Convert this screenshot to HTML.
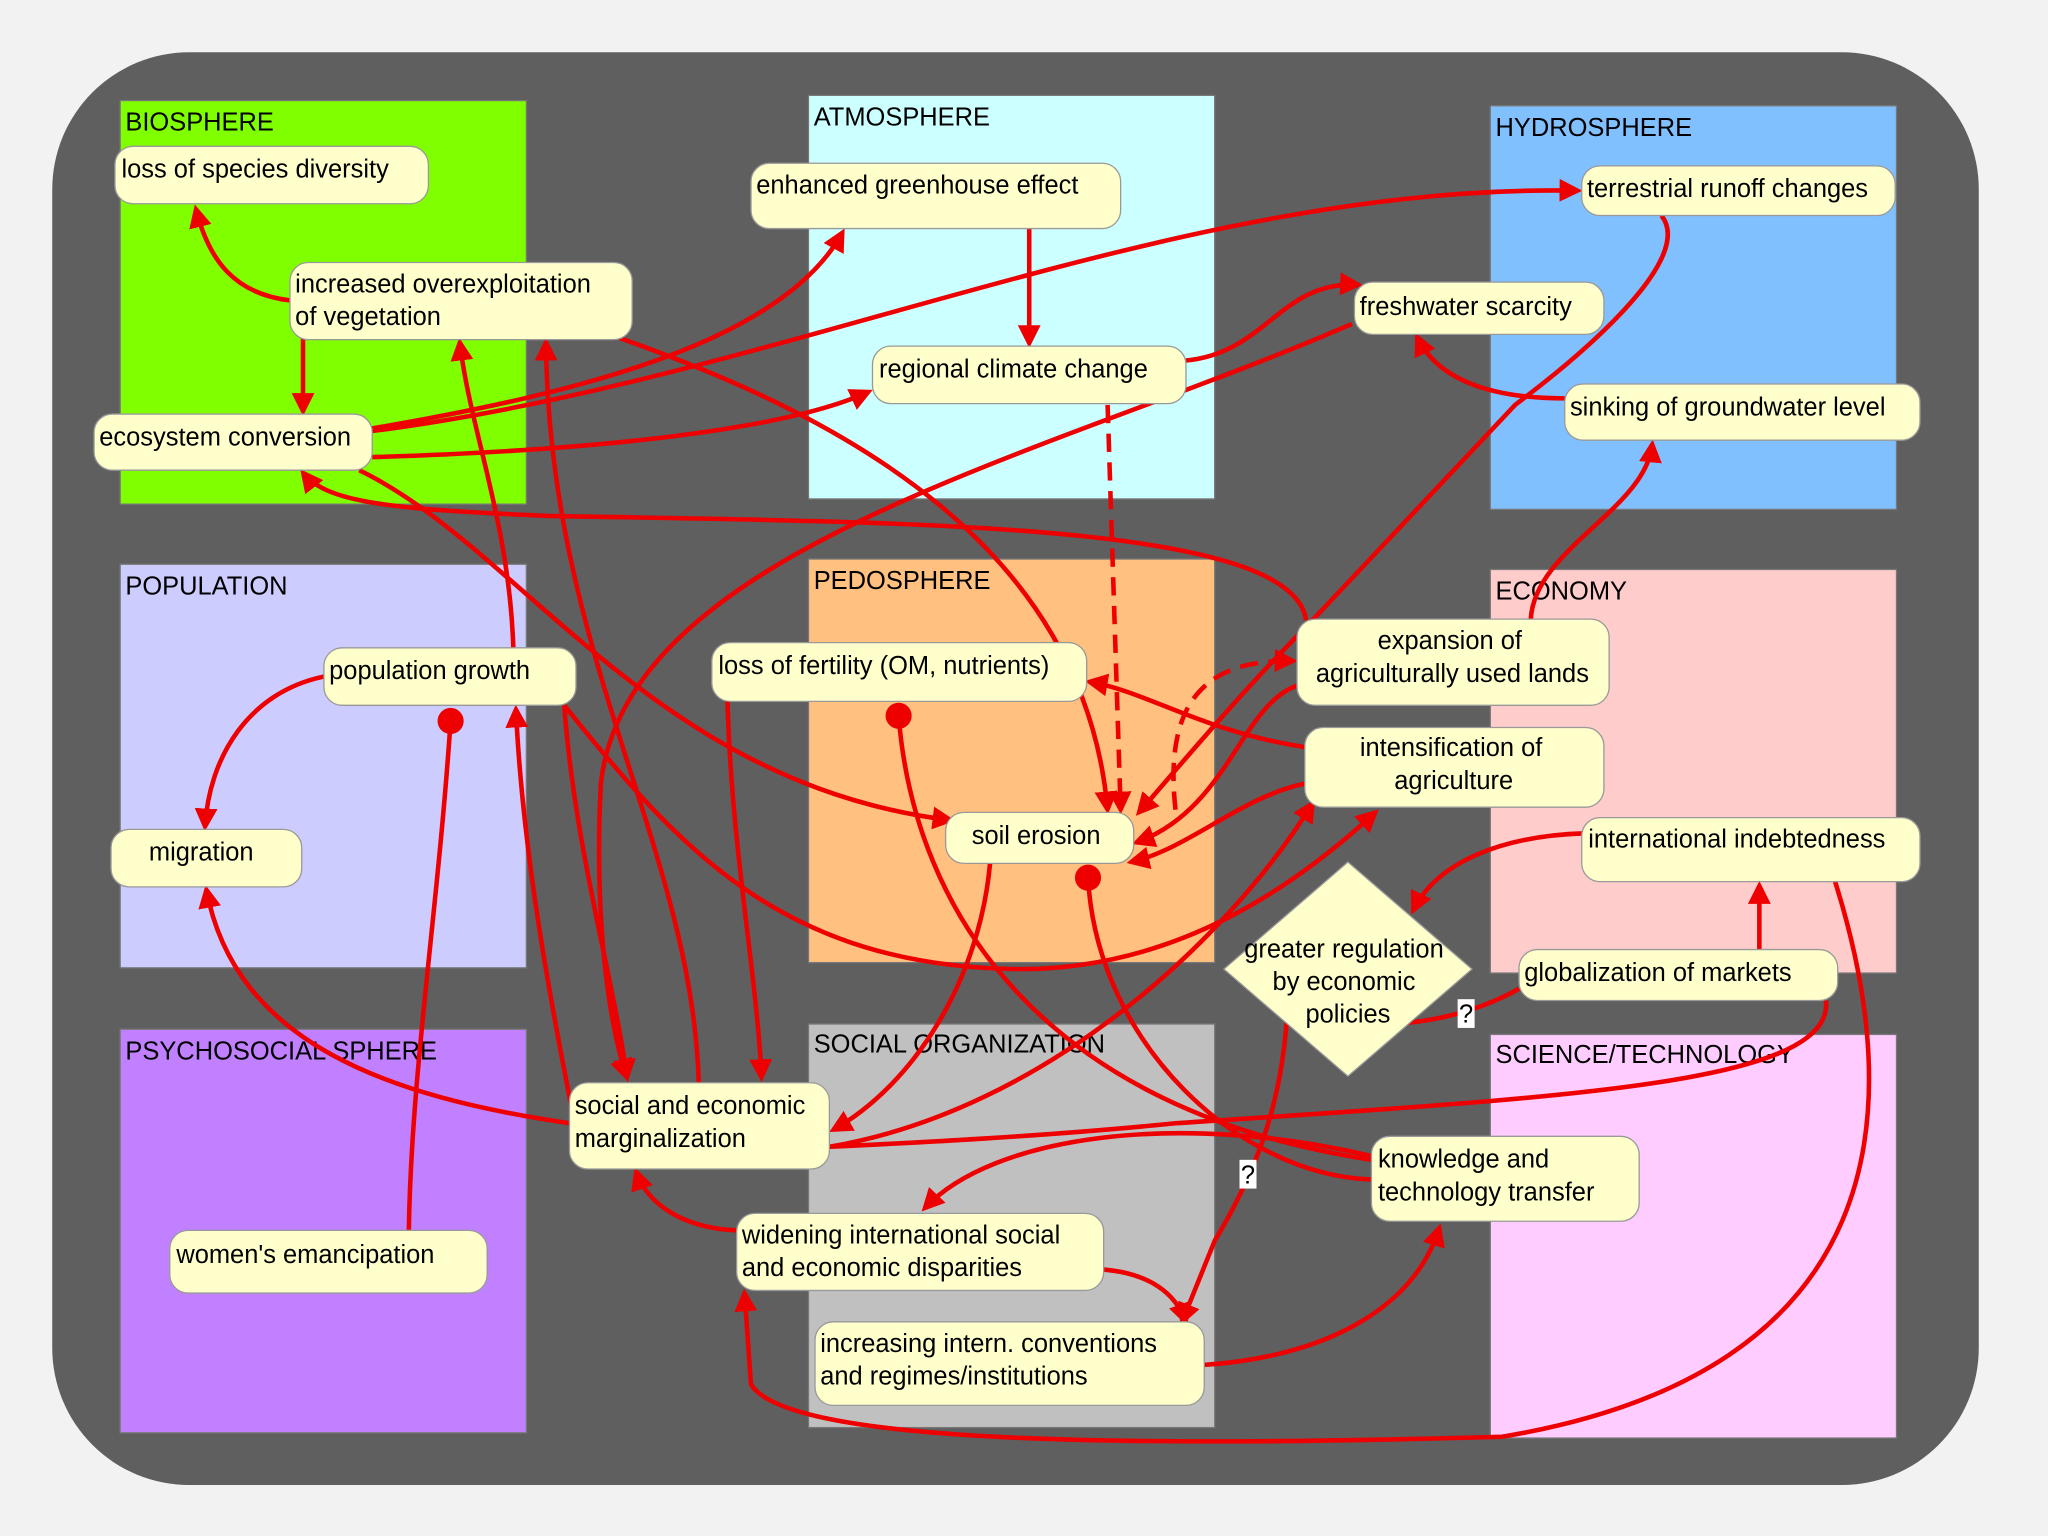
<!DOCTYPE html>
<html><head><meta charset="utf-8"><style>
html,body{margin:0;padding:0;background:#f2f2f2}
svg{display:block}
text{font-family:"Liberation Sans",sans-serif;font-size:19.5px;fill:#000}
.n{fill:#ffffcc;stroke:#999;stroke-width:1}
.a{fill:none;stroke:#ee0000;stroke-width:3.5}
.d{stroke-dasharray:14 8}
</style></head><body>
<svg width="2048" height="1536" viewBox="0 0 1568 1176" xmlns="http://www.w3.org/2000/svg">
<defs><marker id="m" viewBox="0 0 10 10" refX="8" refY="5" markerWidth="5" markerHeight="5" orient="auto"><path d="M0,0L10,5L0,10z" fill="#ee0000"/></marker></defs>
<rect x="0" y="0" width="1568" height="1176" fill="#f2f2f2"/>
<rect x="40" y="40" width="1475" height="1097" rx="105" fill="#5f5f5f"/>
<g stroke="#777" stroke-width="1">
<rect x="92" y="77" width="311" height="309" fill="#80ff00"/>
<rect x="619" y="73" width="311" height="309" fill="#ccffff"/>
<rect x="1141" y="81" width="311" height="309" fill="#80c0ff"/>
<rect x="92" y="432" width="311" height="309" fill="#ccccff"/>
<rect x="619" y="428" width="311" height="309" fill="#ffc080"/>
<rect x="1141" y="436" width="311" height="309" fill="#ffcccc"/>
<rect x="92" y="788" width="311" height="309" fill="#c080ff"/>
<rect x="619" y="784" width="311" height="309" fill="#c0c0c0"/>
<rect x="1141" y="792" width="311" height="309" fill="#ffccff"/>
</g>
<text x="96" y="100">BIOSPHERE</text>
<text x="623" y="96">ATMOSPHERE</text>
<text x="1145" y="104">HYDROSPHERE</text>
<text x="96" y="455">POPULATION</text>
<text x="623" y="451">PEDOSPHERE</text>
<text x="1145" y="459">ECONOMY</text>
<text x="96" y="811">PSYCHOSOCIAL SPHERE</text>
<text x="623" y="806">SOCIAL ORGANIZATION</text>
<text x="1145" y="814">SCIENCE/TECHNOLOGY</text>

<g>
<path class="a" marker-end="url(#m)" d="M222,230 C180,225 160,200 150,160"/>
<path class="a" marker-end="url(#m)" d="M232,258 L232,315"/>
<path class="a" marker-end="url(#m)" d="M285,328 C450,300 600,260 645,178"/>
<path class="a" marker-end="url(#m)" d="M285,330 C600,290 900,140 1208,146"/>
<path class="a" marker-end="url(#m)" d="M285,350 C450,345 600,330 665,300"/>
<path class="a" marker-end="url(#m)" d="M275,360 C400,420 500,600 728,628"/>
<path class="a" marker-end="url(#m)" d="M1000,475 C990,400 700,400 420,395 C300,390 250,385 232,362"/>
<path class="a" marker-end="url(#m)" d="M393,496 C390,400 360,330 352,262"/>
<path class="a" marker-end="url(#m)" d="M535,829 C530,650 420,500 418,262"/>
<path class="a" marker-end="url(#m)" d="M472,258 C650,320 830,420 848,620"/>
<path class="a" marker-end="url(#m)" d="M788,175 L788,263"/>
<path class="a" marker-end="url(#m)" d="M908,276 C970,270 980,215 1040,218"/>
<path class="a d" marker-end="url(#m)" d="M848,310 L858,620"/>
<path class="a" marker-end="url(#m)" d="M1198,305 C1140,305 1100,290 1085,258"/>
<path class="a" marker-end="url(#m)" d="M1272,165 C1300,200 1200,280 1160,310 L1000,480 C950,530 900,590 872,622"/>
<path class="a" marker-end="url(#m)" d="M1172,474 C1175,420 1260,390 1265,340"/>
<path class="a" marker-end="url(#m)" d="M1035,248 C800,350 480,420 460,600 C455,700 465,780 480,825"/>
<path class="a" marker-end="url(#m)" d="M432,540 C440,650 470,750 480,825"/>
<path class="a" marker-end="url(#m)" d="M557,537 C560,650 580,750 583,825"/>
<path class="a" marker-end="url(#m)" d="M440,860 C420,760 400,650 395,543"/>
<path class="a" marker-end="url(#m)" d="M436,860 C300,840 180,800 158,681"/>
<path class="a" marker-end="url(#m)" d="M248,518 C190,530 160,580 157,633"/>
<path class="a" d="M345,552 C335,700 315,820 313,942"/>
<circle cx="345" cy="552" r="10" fill="#ee0000"/>
<path class="a" d="M688,548 C700,700 800,850 1050,888"/>
<circle cx="688" cy="548" r="10" fill="#ee0000"/>
<path class="a" d="M833,672 C840,800 950,900 1050,903"/>
<circle cx="833" cy="672" r="10" fill="#ee0000"/>
<path class="a" marker-end="url(#m)" d="M999,572 C920,560 880,530 834,522"/>
<path class="a" marker-end="url(#m)" d="M999,600 C950,610 910,650 866,660"/>
<path class="a" marker-end="url(#m)" d="M993,525 C950,540 940,620 870,645"/>
<path class="a d" marker-end="url(#m)" d="M900,620 C890,530 930,505 990,506"/>
<path class="a" marker-end="url(#m)" d="M432,540 C520,650 600,740 780,742 C900,742 990,680 1053,622"/>
<path class="a" marker-end="url(#m)" d="M758,661 C750,750 700,830 638,865"/>
<path class="a" marker-end="url(#m)" d="M635,878 C800,850 940,720 1005,615"/>
<path class="a" marker-end="url(#m)" d="M1213,638 C1150,640 1100,660 1082,697"/>
<path class="a" marker-end="url(#m)" d="M1347,727 L1347,678"/>
<path class="a" d="M1163,757 C1140,770 1110,780 1078,783"/>
<path class="a" d="M1398,766 C1405,830 1200,840 900,860 C800,870 700,875 635,878"/>
<path class="a" marker-end="url(#m)" d="M985,783 C980,850 960,900 930,950 L905,1012"/>
<path class="a" marker-end="url(#m)" d="M922,1045 C1000,1040 1080,1010 1102,940"/>
<path class="a" marker-end="url(#m)" d="M845,972 C880,975 900,990 908,1012"/>
<path class="a" marker-end="url(#m)" d="M1050,885 C900,850 760,870 708,925"/>
<path class="a" marker-end="url(#m)" d="M564,942 C520,940 495,920 487,897"/>
<path class="a" marker-end="url(#m)" d="M1405,675 C1460,850 1450,1050 1150,1100 C800,1110 600,1100 575,1060 L570,990"/>
</g>

<rect x="1116" y="765" width="13" height="22" fill="#fff"/><text x="1117" y="783">?</text>
<rect x="949" y="888" width="13" height="22" fill="#fff"/><text x="950" y="906">?</text>

<rect class="n" x="88" y="112" width="240" height="44" rx="14"/><text x="93" y="136">loss of species diversity</text>
<rect class="n" x="222" y="201" width="262" height="59" rx="14"/><text x="226" y="224">increased overexploitation</text><text x="226" y="249">of vegetation</text>
<rect class="n" x="72" y="317" width="213" height="43" rx="14"/><text x="76" y="341">ecosystem conversion</text>
<rect class="n" x="575" y="125" width="283" height="50" rx="14"/><text x="579" y="148">enhanced greenhouse effect</text>
<rect class="n" x="668" y="265" width="240" height="44" rx="14"/><text x="673" y="289">regional climate change</text>
<rect class="n" x="1211" y="127" width="240" height="38" rx="14"/><text x="1215" y="151">terrestrial runoff changes</text>
<rect class="n" x="1037" y="216" width="191" height="40" rx="14"/><text x="1041" y="241">freshwater scarcity</text>
<rect class="n" x="1198" y="294" width="272" height="43" rx="14"/><text x="1202" y="318">sinking of groundwater level</text>
<rect class="n" x="248" y="496" width="193" height="44" rx="14"/><text x="252" y="520">population growth</text>
<rect class="n" x="85" y="635" width="146" height="44" rx="14"/><text x="114" y="659">migration</text>
<rect class="n" x="545" y="492" width="287" height="45" rx="14"/><text x="550" y="516">loss of fertility (OM, nutrients)</text>
<rect class="n" x="724" y="622" width="144" height="39" rx="14"/><text x="744" y="646">soil erosion</text>
<rect class="n" x="993" y="474" width="239" height="66" rx="14"/><text x="1110" y="497" text-anchor="middle">expansion of</text><text x="1112" y="522" text-anchor="middle">agriculturally used lands</text>
<rect class="n" x="999" y="557" width="229" height="61" rx="14"/><text x="1111" y="579" text-anchor="middle">intensification of</text><text x="1113" y="604" text-anchor="middle">agriculture</text>
<rect class="n" x="1211" y="626" width="259" height="49" rx="14"/><text x="1216" y="649">international indebtedness</text>
<rect class="n" x="1163" y="727" width="244" height="39" rx="14"/><text x="1167" y="751">globalization of markets</text>
<polygon class="n" points="1032,660 1127,742 1032,824 937,742"/>
<text x="1029" y="733" text-anchor="middle">greater regulation</text><text x="1029" y="758" text-anchor="middle">by economic</text><text x="1032" y="783" text-anchor="middle">policies</text>
<rect class="n" x="436" y="829" width="199" height="66" rx="14"/><text x="440" y="853">social and economic</text><text x="440" y="878">marginalization</text>
<rect class="n" x="1050" y="870" width="205" height="65" rx="14"/><text x="1055" y="894">knowledge and</text><text x="1055" y="919">technology transfer</text>
<rect class="n" x="564" y="929" width="281" height="59" rx="14"/><text x="568" y="952">widening international social</text><text x="568" y="977">and economic disparities</text>
<rect class="n" x="624" y="1012" width="298" height="64" rx="14"/><text x="628" y="1035">increasing intern. conventions</text><text x="628" y="1060">and regimes/institutions</text>
<rect class="n" x="130" y="942" width="243" height="48" rx="14"/><text x="135" y="967">women's emancipation</text>
</svg>
</body></html>
